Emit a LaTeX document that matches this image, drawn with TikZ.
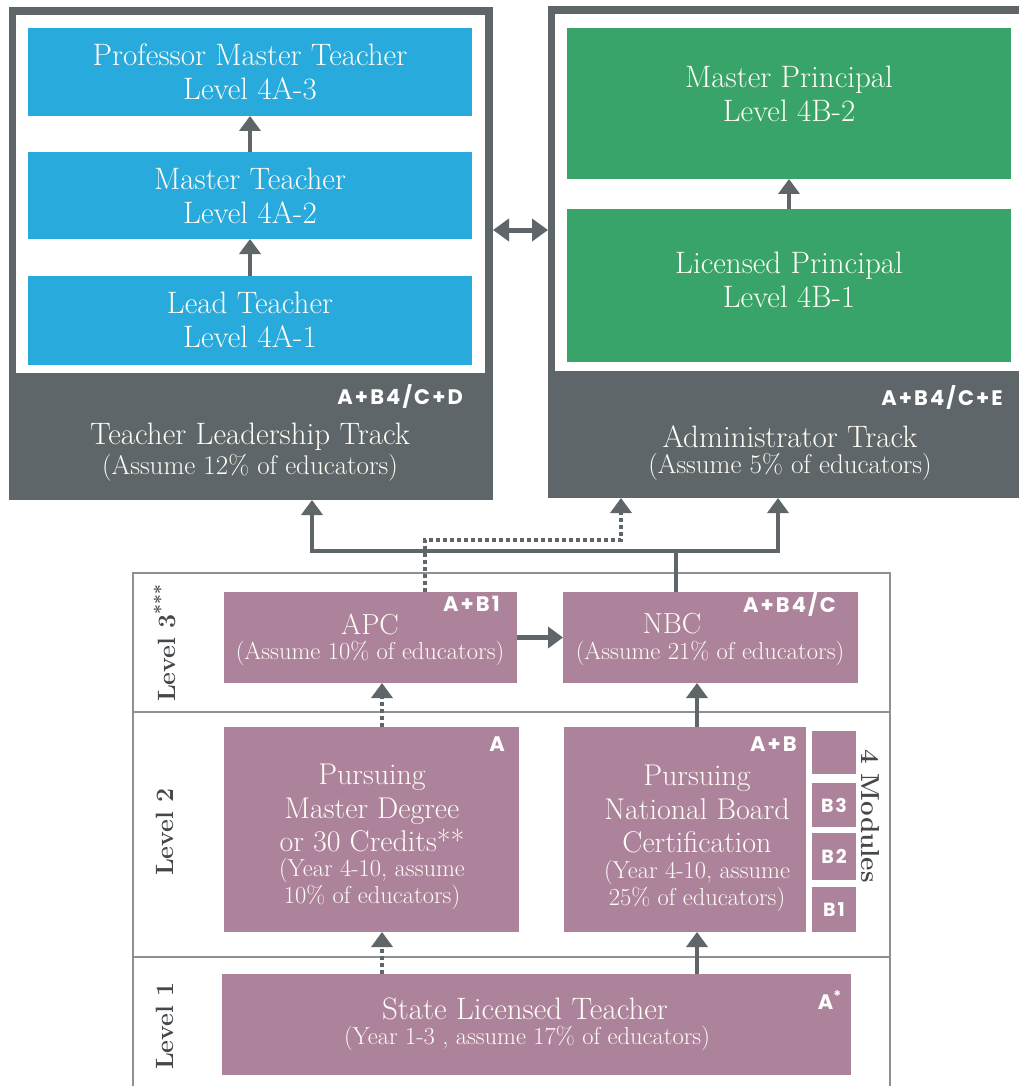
\documentclass[tikz,border=0pt]{standalone}
\usepackage{fontspec}
\newfontfamily\lblfont{Poppins}[LetterSpace=10]
\usetikzlibrary{arrows.meta,calc}
\definecolor{dgray}{RGB}{95,102,105}
\definecolor{fgray}{RGB}{140,146,148}
\definecolor{tblue}{RGB}{41,170,220}
\definecolor{tgreen}{RGB}{56,164,106}
\definecolor{mauve}{RGB}{172,131,155}
\definecolor{txt}{RGB}{255,253,245}
\definecolor{lvltxt}{RGB}{68,72,75}
\begin{document}
\begin{tikzpicture}[x=1pt,y=-1pt,
  box/.style={rectangle, inner sep=0pt, outer sep=0pt},
  bluebox/.style={box, fill=tblue, minimum width=444pt, text=txt, align=center, font=\fontsize{31}{34}\selectfont},
  greenbox/.style={box, fill=tgreen, minimum width=444pt},
  mbox/.style={box, fill=mauve},
  ttext/.style={inner sep=0pt, text=txt, align=center, font=\fontsize{31}{34}\selectfont},
  stext/.style={inner sep=0pt, text=txt, align=center, font=\fontsize{24.5}{27}\selectfont},
  tstext/.style={inner sep=0pt, text=txt, align=center, font=\fontsize{27}{30}\selectfont},
  lbl/.style={inner sep=0pt, text=white, anchor=east, font=\lblfont\bfseries\fontsize{21}{21}\selectfont},
  lvl/.style={inner sep=0pt, text=lvltxt, rotate=90, font=\bfseries\fontsize{25}{25}\selectfont},
  conn/.style={draw=dgray, line width=4.5pt, -{Triangle[length=15pt,width=21pt]}},
  dotconn/.style={conn, line width=3.5pt, dash pattern=on 4pt off 3pt},
  plain/.style={draw=dgray, line width=4.5pt}
]
\useasboundingbox (0,0) rectangle (1019,1086);
\fill[white] (0,0) rectangle (1019,1086);

% ---------- Teacher leadership track ----------
\node[box, fill=dgray, minimum width=484pt, minimum height=493pt] (trackL) at (251,253.5) {};
\node[box, fill=white, minimum width=469pt, minimum height=358pt] (innerL) at (250.5,194) {};
\node[bluebox, minimum height=88pt] (pmt) at (250,72) {Professor Master Teacher\\Level 4A-3};
\node[bluebox, minimum height=87pt] (mt) at (250,195.5) {Master Teacher\\Level 4A-2};
\node[bluebox, minimum height=89pt] (lt) at (250,320) {Lead Teacher\\Level 4A-1};
\draw[conn] (lt) -- (mt);
\draw[conn] (mt) -- (pmt);
\node[lbl] (lblL) at (463,396) {A+B4/C+D};
\node[ttext] (titL) at (250,437) {Teacher Leadership Track};
\node[tstext] (subL) at (250,468) {(Assume 12\% of educators)};

% ---------- Administrator track ----------
\node[box, fill=dgray, minimum width=471pt, minimum height=492pt] (trackR) at (783.5,252) {};
\node[box, fill=white, minimum width=464pt, minimum height=357pt] (innerR) at (787,192.5) {};
\node[greenbox, minimum height=151pt] (mp) at (789,103.5) {};
\node[greenbox, minimum height=153pt] (lp) at (789,285.5) {};
\node[ttext] (mpT) at (789,94) {Master Principal\\Level 4B-2};
\node[ttext] (lpT) at (789,280) {Licensed Principal\\Level 4B-1};
\draw[conn] (lp) -- (mp);
\node[lbl] (lblR) at (1003,397) {A+B4/C+E};
\node[ttext] (titR) at (790,437) {Administrator Track};
\node[tstext] (subR) at (790,467) {(Assume 5\% of educators)};

\coordinate (dy) at (0,230);
\draw[draw=dgray, line width=5pt, {Triangle[length=16pt,width=22pt]}-{Triangle[length=16pt,width=22pt]}] (trackL.east |- dy) -- (trackR.west |- dy);

% ---------- Levels frame ----------
\node[box, draw=fgray, line width=2pt, minimum width=757pt, minimum height=139pt] (row3) at (511.5,642.5) {};
\node[box, draw=fgray, line width=2pt, minimum width=757pt, minimum height=245pt] (row2) at (511.5,834.5) {};
\node[box, draw=fgray, line width=2pt, minimum width=757pt, minimum height=143pt] (row1) at (511.5,1028.5) {};
\node[lvl] (lv3) at (165,643) {Level 3\textsuperscript{***}};
\node[lvl] (lv2) at (165,832) {Level 2};
\node[lvl] (lv1) at (165,1026) {Level 1};

% Level 3
\node[mbox, minimum width=293pt, minimum height=91pt] (apc) at (370.5,637.5) {};
\node[mbox, minimum width=295pt, minimum height=91pt] (nbc) at (710.5,637.5) {};
\node[ttext, font=\fontsize{29}{32}\selectfont] (apcT) at (370,624) {APC};
\node[stext] (apcS) at (370,653) {(Assume 10\% of educators)};
\node[lbl] (apcL) at (500,604) {A+B1};
\node[ttext, font=\fontsize{29}{32}\selectfont] (nbcT) at (672,624) {NBC};
\node[stext] (nbcS) at (710,653) {(Assume 21\% of educators)};
\node[lbl] (nbcL) at (836,604) {A+B4/C};

% Level 2
\node[mbox, minimum width=295pt, minimum height=205pt] (pmd) at (371.5,829.5) {};
\node[mbox, minimum width=242pt, minimum height=205pt] (pnbc) at (685,829.5) {};
\node[ttext, font=\fontsize{30}{33.5}\selectfont] (pmdT) at (372,808) {Pursuing\\Master Degree\\or 30 Credits**};
\node[stext] (pmdS) at (372,884) {(Year 4-10, assume\\10\% of educators)};
\node[lbl] (pmdL) at (505,744) {A};
\node[ttext, font=\fontsize{30}{33.5}\selectfont] (pnbcT) at (697,809) {Pursuing\\National Board\\Certification};
\node[stext] (pnbcS) at (697,886) {(Year 4-10, assume\\25\% of educators)};
\node[lbl] (pnbcL) at (797,744) {A+B};
\node[mbox, minimum width=44pt, minimum height=43pt] (b4) at (834,752.5) {};
\node[mbox, minimum width=44pt, minimum height=44pt, text=white, font=\lblfont\bfseries\fontsize{19}{19}\selectfont] (b3) at (834,805) {B3};
\node[mbox, minimum width=44pt, minimum height=47pt, text=white, font=\lblfont\bfseries\fontsize{19}{19}\selectfont] (b2) at (834,856.5) {B2};
\node[mbox, minimum width=44pt, minimum height=45pt, text=white, font=\lblfont\bfseries\fontsize{19}{19}\selectfont] (b1) at (834,909.5) {B1};
\node[lvl, rotate=180, font=\bfseries\fontsize{26}{26}\selectfont] (mods) at (870,816) {4 Modules};

% Level 1
\node[mbox, minimum width=629pt, minimum height=101pt] (slt) at (536.5,1024.5) {};
\node[ttext] (sltT) at (525,1009) {State Licensed Teacher};
\node[stext] (sltS) at (527,1038) {(Year 1-3 , assume 17\% of educators)};
\node[lbl] (sltL) at (842,1000) {A\textsuperscript{*}};

% ---------- connectors ----------
\coordinate (xa) at (382,0);
\coordinate (xb) at (697,0);
\draw[dotconn] (slt.north -| xa) -- (pmd.south -| xa);
\draw[conn] (slt.north -| xb) -- (pnbc.south -| xb);
\draw[dotconn] (pmd.north -| xa) -- (apc.south -| xa);
\draw[conn] (pnbc.north -| xb) -- (nbc.south -| xb);
\draw[conn] (apc) -- (nbc);

\coordinate (jn) at (676,551);
\coordinate (xL) at (312,0);
\coordinate (xR) at (778,0);
\draw[plain] (nbc.north -| jn) -- (jn);
\draw[conn] (jn) -| (trackL.south -| xL);
\draw[conn] (jn) -| (trackR.south -| xR);

\coordinate (jd) at (425,540);
\coordinate (xD) at (621,0);
\draw[dotconn] (apc.north -| jd) -- (jd) -| (trackR.south -| xD);
\end{tikzpicture}
\end{document}
